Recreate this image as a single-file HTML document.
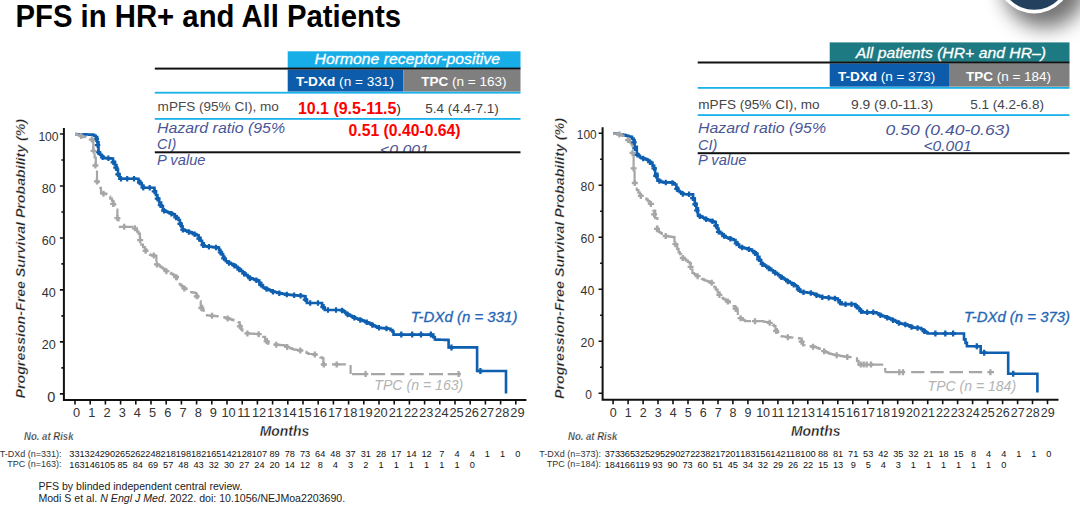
<!DOCTYPE html>
<html><head><meta charset="utf-8"><style>
html,body{margin:0;padding:0;background:#fff;width:1080px;height:508px;overflow:hidden}
svg{display:block;font-family:"Liberation Sans", sans-serif}
</style></head><body>
<svg width="1080" height="508" viewBox="0 0 1080 508">
<text x="15.5" y="27" font-size="30.5" font-weight="bold" fill="#000" textLength="385.5" lengthAdjust="spacingAndGlyphs">PFS in HR+ and All Patients</text>
<defs><filter id="sh" x="-50%" y="-50%" width="200%" height="200%"><feGaussianBlur stdDeviation="10"/></filter><clipPath id="clipL"><rect x="150" y="138" width="380" height="14"/></clipPath></defs>
<circle cx="1045" cy="-14" r="42" fill="#000" opacity="0.55" filter="url(#sh)"/>
<circle cx="1034.2" cy="-24.5" r="38" fill="#fff"/>
<circle cx="1034.2" cy="-24.5" r="34.3" fill="#23405e"/>
<rect x="287.7" y="51.3" width="232.8" height="17" fill="#17aee8"/>
<rect x="287.7" y="69.6" width="115.6" height="22" fill="#0d5cab"/>
<rect x="403.3" y="69.6" width="117.2" height="22" fill="#7f7f7f"/>
<rect x="154.8" y="67.6" width="365.7" height="2" fill="#111"/>
<rect x="154.8" y="91.8" width="365.7" height="1.8" fill="#1ab2ea"/>
<rect x="154.8" y="118" width="365.7" height="1.8" fill="#1ab2ea"/>
<text x="314.5" y="63.5" font-size="14" font-style="italic" fill="#fff" stroke="#fff" stroke-width="0.3" textLength="185.5" lengthAdjust="spacingAndGlyphs">Hormone receptor-positive</text>
<text x="296" y="86" font-size="13" fill="#fff" textLength="98" lengthAdjust="spacingAndGlyphs"><tspan font-weight="bold">T-DXd</tspan> (n = 331)</text>
<text x="421.2" y="86" font-size="13" fill="#fff" textLength="85.3" lengthAdjust="spacingAndGlyphs"><tspan font-weight="bold">TPC</tspan> (n = 163)</text>
<text x="157.6" y="111.4" font-size="13" fill="#4a4a4a" textLength="121.3" lengthAdjust="spacingAndGlyphs">mPFS (95% CI), mo</text>
<text x="297.9" y="113" font-size="16" font-weight="bold" fill="#f00" textLength="98.5" dy="0.5" lengthAdjust="spacingAndGlyphs">10.1 (9.5-11.5</text>
<text x="396.6" y="113" font-size="13" fill="#222">)</text>
<text x="425.3" y="112.5" font-size="12.5" fill="#444" textLength="73.5" lengthAdjust="spacingAndGlyphs">5.4 (4.4-7.1)</text>
<text x="157" y="133" font-size="14.5" font-style="italic" fill="#4a5696" textLength="128" lengthAdjust="spacingAndGlyphs">Hazard ratio (95%</text>
<text x="157" y="149" font-size="14.5" font-style="italic" fill="#4a5696">CI)</text>
<text x="348.6" y="136.3" font-size="16" font-weight="bold" fill="#f00" textLength="112" lengthAdjust="spacingAndGlyphs">0.51 (0.40-0.64)</text>
<g clip-path="url(#clipL)"><text x="380" y="155" font-size="14" font-style="italic" fill="#4a5696" textLength="48.9" lengthAdjust="spacingAndGlyphs">&lt;0.001</text></g>
<rect x="154.8" y="151.3" width="365.7" height="2" fill="#111"/>
<text x="157" y="165" font-size="14.5" font-style="italic" fill="#4a5696" textLength="48.5" lengthAdjust="spacingAndGlyphs">P value</text>
<rect x="829.7" y="42.4" width="239.8" height="19.5" fill="#1e7a82"/>
<rect x="829.7" y="63.4" width="119.3" height="23.3" fill="#0d5cab"/>
<rect x="949" y="63.4" width="120.5" height="23.3" fill="#7f7f7f"/>
<rect x="697.7" y="61.5" width="371.8" height="2" fill="#111"/>
<rect x="697.7" y="87" width="371.8" height="1.8" fill="#1ab2ea"/>
<rect x="697.7" y="114.2" width="371.8" height="1.8" fill="#1ab2ea"/>
<text x="855.8" y="57.6" font-size="15" font-style="italic" fill="#fff" stroke="#fff" stroke-width="0.3" textLength="190.2" lengthAdjust="spacingAndGlyphs">All patients (HR+ and HR–)</text>
<text x="837.9" y="81" font-size="13.5" fill="#fff" textLength="97.3" lengthAdjust="spacingAndGlyphs"><tspan font-weight="bold">T-DXd</tspan> (n = 373)</text>
<text x="966.1" y="81" font-size="13.5" fill="#fff" textLength="84.9" lengthAdjust="spacingAndGlyphs"><tspan font-weight="bold">TPC</tspan> (n = 184)</text>
<text x="698.3" y="108.6" font-size="13.5" fill="#444" textLength="121.3" lengthAdjust="spacingAndGlyphs">mPFS (95% CI), mo</text>
<text x="851" y="109.4" font-size="13.5" fill="#444" textLength="82" lengthAdjust="spacingAndGlyphs">9.9 (9.0-11.3)</text>
<text x="970.3" y="109.4" font-size="13.5" fill="#444" textLength="73.6" lengthAdjust="spacingAndGlyphs">5.1 (4.2-6.8)</text>
<text x="698" y="133.4" font-size="14.5" font-style="italic" fill="#4a5696" textLength="128" lengthAdjust="spacingAndGlyphs">Hazard ratio (95%</text>
<text x="698" y="150" font-size="14.5" font-style="italic" fill="#4a5696">CI)</text>
<text x="885.6" y="135.3" font-size="14.5" font-style="italic" fill="#4a5696" textLength="124.6" lengthAdjust="spacingAndGlyphs">0.50 (0.40-0.63)</text>
<text x="923.4" y="150.5" font-size="14" font-style="italic" fill="#4a5696" textLength="48.2" lengthAdjust="spacingAndGlyphs">&lt;0.001</text>
<rect x="697.7" y="152.2" width="371.8" height="2" fill="#111"/>
<text x="698" y="165" font-size="14.5" font-style="italic" fill="#4a5696" textLength="48.5" lengthAdjust="spacingAndGlyphs">P value</text>
<g font-family='"Liberation Sans", sans-serif'>
<path d="M63.9 128.0 V399.9 H526.4" fill="none" stroke="#111" stroke-width="2"/><path d="M59.9 393.9H63.9M61.4 367.9H63.9M59.9 341.9H63.9M61.4 315.9H63.9M59.9 289.9H63.9M61.4 263.9H63.9M59.9 238.0H63.9M61.4 212.0H63.9M59.9 186.0H63.9M61.4 160.0H63.9M59.9 134.0H63.9M75.0 399.9V404.4M90.2 399.9V404.4M105.4 399.9V404.4M120.6 399.9V404.4M135.8 399.9V404.4M151.0 399.9V404.4M166.2 399.9V404.4M181.4 399.9V404.4M196.6 399.9V404.4M211.8 399.9V404.4M227.0 399.9V404.4M242.2 399.9V404.4M257.4 399.9V404.4M272.6 399.9V404.4M287.8 399.9V404.4M303.0 399.9V404.4M318.2 399.9V404.4M333.4 399.9V404.4M348.6 399.9V404.4M363.8 399.9V404.4M379.0 399.9V404.4M394.2 399.9V404.4M409.4 399.9V404.4M424.6 399.9V404.4M439.8 399.9V404.4M455.0 399.9V404.4M470.2 399.9V404.4M485.4 399.9V404.4M500.6 399.9V404.4M515.8 399.9V404.4" stroke="#111" stroke-width="1.6" fill="none"/><text x="55.4" y="402.2" text-anchor="end" font-size="14.5" fill="#333">0</text><text x="55.8" y="348.5" text-anchor="end" font-size="12.6" fill="#333">20</text><text x="55.8" y="296.5" text-anchor="end" font-size="12.6" fill="#333">40</text><text x="55.8" y="244.6" text-anchor="end" font-size="12.6" fill="#333">60</text><text x="55.8" y="192.6" text-anchor="end" font-size="12.6" fill="#333">80</text><text x="58.6" y="140.7" text-anchor="end" font-size="12.6" fill="#333" textLength="20.2" lengthAdjust="spacingAndGlyphs">100</text><text x="76.6" y="417.4" text-anchor="middle" font-size="12.8" fill="#333">0</text><text x="91.8" y="417.4" text-anchor="middle" font-size="12.8" fill="#333">1</text><text x="107.0" y="417.4" text-anchor="middle" font-size="12.8" fill="#333">2</text><text x="122.2" y="417.4" text-anchor="middle" font-size="12.8" fill="#333">3</text><text x="137.4" y="417.4" text-anchor="middle" font-size="12.8" fill="#333">4</text><text x="152.6" y="417.4" text-anchor="middle" font-size="12.8" fill="#333">5</text><text x="167.8" y="417.4" text-anchor="middle" font-size="12.8" fill="#333">6</text><text x="183.0" y="417.4" text-anchor="middle" font-size="12.8" fill="#333">7</text><text x="198.2" y="417.4" text-anchor="middle" font-size="12.8" fill="#333">8</text><text x="213.4" y="417.4" text-anchor="middle" font-size="12.8" fill="#333">9</text><text x="228.6" y="417.4" text-anchor="middle" font-size="12.8" fill="#333">10</text><text x="243.8" y="417.4" text-anchor="middle" font-size="12.8" fill="#333">11</text><text x="259.0" y="417.4" text-anchor="middle" font-size="12.8" fill="#333">12</text><text x="274.2" y="417.4" text-anchor="middle" font-size="12.8" fill="#333">13</text><text x="289.4" y="417.4" text-anchor="middle" font-size="12.8" fill="#333">14</text><text x="304.6" y="417.4" text-anchor="middle" font-size="12.8" fill="#333">15</text><text x="319.8" y="417.4" text-anchor="middle" font-size="12.8" fill="#333">16</text><text x="335.0" y="417.4" text-anchor="middle" font-size="12.8" fill="#333">17</text><text x="350.2" y="417.4" text-anchor="middle" font-size="12.8" fill="#333">18</text><text x="365.4" y="417.4" text-anchor="middle" font-size="12.8" fill="#333">19</text><text x="380.6" y="417.4" text-anchor="middle" font-size="12.8" fill="#333">20</text><text x="395.8" y="417.4" text-anchor="middle" font-size="12.8" fill="#333">21</text><text x="411.0" y="417.4" text-anchor="middle" font-size="12.8" fill="#333">22</text><text x="426.2" y="417.4" text-anchor="middle" font-size="12.8" fill="#333">23</text><text x="441.4" y="417.4" text-anchor="middle" font-size="12.8" fill="#333">24</text><text x="456.6" y="417.4" text-anchor="middle" font-size="12.8" fill="#333">25</text><text x="471.8" y="417.4" text-anchor="middle" font-size="12.8" fill="#333">26</text><text x="487.0" y="417.4" text-anchor="middle" font-size="12.8" fill="#333">27</text><text x="502.2" y="417.4" text-anchor="middle" font-size="12.8" fill="#333">28</text><text x="517.4" y="417.4" text-anchor="middle" font-size="12.8" fill="#333">29</text>
<path d="M602.6 127.3 V399.8 H1058.5" fill="none" stroke="#111" stroke-width="2"/><path d="M598.6 393.3H602.6M600.1 367.3H602.6M598.6 341.3H602.6M600.1 315.3H602.6M598.6 289.3H602.6M600.1 263.3H602.6M598.6 237.3H602.6M600.1 211.3H602.6M598.6 185.3H602.6M600.1 159.3H602.6M598.6 133.3H602.6M613.1 399.8V404.3M628.1 399.8V404.3M643.1 399.8V404.3M658.0 399.8V404.3M673.0 399.8V404.3M688.0 399.8V404.3M703.0 399.8V404.3M718.0 399.8V404.3M732.9 399.8V404.3M747.9 399.8V404.3M762.9 399.8V404.3M777.9 399.8V404.3M792.9 399.8V404.3M807.8 399.8V404.3M822.8 399.8V404.3M837.8 399.8V404.3M852.8 399.8V404.3M867.8 399.8V404.3M882.7 399.8V404.3M897.7 399.8V404.3M912.7 399.8V404.3M927.7 399.8V404.3M942.7 399.8V404.3M957.6 399.8V404.3M972.6 399.8V404.3M987.6 399.8V404.3M1002.6 399.8V404.3M1017.6 399.8V404.3M1032.5 399.8V404.3M1047.5 399.8V404.3" stroke="#111" stroke-width="1.6" fill="none"/><text x="592.0" y="398.8" text-anchor="end" font-size="12.0" fill="#333">0</text><text x="594.3" y="346.8" text-anchor="end" font-size="12.3" fill="#333">20</text><text x="594.3" y="295.1" text-anchor="end" font-size="12.3" fill="#333">40</text><text x="594.3" y="243.1" text-anchor="end" font-size="12.3" fill="#333">60</text><text x="594.3" y="191.3" text-anchor="end" font-size="12.3" fill="#333">80</text><text x="596.6" y="138.9" text-anchor="end" font-size="12.3" fill="#333" textLength="19.8" lengthAdjust="spacingAndGlyphs">100</text><text x="613.3" y="416.6" text-anchor="middle" font-size="12.5" fill="#333">0</text><text x="628.3" y="416.6" text-anchor="middle" font-size="12.5" fill="#333">1</text><text x="643.3" y="416.6" text-anchor="middle" font-size="12.5" fill="#333">2</text><text x="658.2" y="416.6" text-anchor="middle" font-size="12.5" fill="#333">3</text><text x="673.2" y="416.6" text-anchor="middle" font-size="12.5" fill="#333">4</text><text x="688.2" y="416.6" text-anchor="middle" font-size="12.5" fill="#333">5</text><text x="703.2" y="416.6" text-anchor="middle" font-size="12.5" fill="#333">6</text><text x="718.2" y="416.6" text-anchor="middle" font-size="12.5" fill="#333">7</text><text x="733.1" y="416.6" text-anchor="middle" font-size="12.5" fill="#333">8</text><text x="748.1" y="416.6" text-anchor="middle" font-size="12.5" fill="#333">9</text><text x="763.1" y="416.6" text-anchor="middle" font-size="12.5" fill="#333">10</text><text x="778.1" y="416.6" text-anchor="middle" font-size="12.5" fill="#333">11</text><text x="793.1" y="416.6" text-anchor="middle" font-size="12.5" fill="#333">12</text><text x="808.0" y="416.6" text-anchor="middle" font-size="12.5" fill="#333">13</text><text x="823.0" y="416.6" text-anchor="middle" font-size="12.5" fill="#333">14</text><text x="838.0" y="416.6" text-anchor="middle" font-size="12.5" fill="#333">15</text><text x="853.0" y="416.6" text-anchor="middle" font-size="12.5" fill="#333">16</text><text x="868.0" y="416.6" text-anchor="middle" font-size="12.5" fill="#333">17</text><text x="882.9" y="416.6" text-anchor="middle" font-size="12.5" fill="#333">18</text><text x="897.9" y="416.6" text-anchor="middle" font-size="12.5" fill="#333">19</text><text x="912.9" y="416.6" text-anchor="middle" font-size="12.5" fill="#333">20</text><text x="927.9" y="416.6" text-anchor="middle" font-size="12.5" fill="#333">21</text><text x="942.9" y="416.6" text-anchor="middle" font-size="12.5" fill="#333">22</text><text x="957.8" y="416.6" text-anchor="middle" font-size="12.5" fill="#333">23</text><text x="972.8" y="416.6" text-anchor="middle" font-size="12.5" fill="#333">24</text><text x="987.8" y="416.6" text-anchor="middle" font-size="12.5" fill="#333">25</text><text x="1002.8" y="416.6" text-anchor="middle" font-size="12.5" fill="#333">26</text><text x="1017.8" y="416.6" text-anchor="middle" font-size="12.5" fill="#333">27</text><text x="1032.7" y="416.6" text-anchor="middle" font-size="12.5" fill="#333">28</text><text x="1047.7" y="416.6" text-anchor="middle" font-size="12.5" fill="#333">29</text>
</g>
<path d="M75.0 134.1L76.6 134.1L76.6 134.2L78.2 134.2L78.2 134.2L79.8 134.2L79.8 134.3L81.4 134.3L81.4 134.3L83.0 134.3L83.0 134.4L84.5 134.4L84.5 134.4L86.1 134.4L86.1 134.5L87.7 134.5L87.7 134.5L89.3 134.5L89.3 134.6L90.9 134.6L90.9 134.6L92.5 134.6L92.5 134.7L94.1 134.7L94.1 135.8L95.7 135.8L95.7 137.0L97.2 137.0L97.2 142.3L98.5 142.3L98.5 153.0L100.1 153.0L100.1 154.7L101.7 154.7L101.7 156.3L103.3 156.3L103.3 158.0L104.8 158.0L104.8 158.1L106.4 158.1L106.4 158.2L107.9 158.2L107.9 158.3L109.5 158.3L109.5 158.4L111.0 158.4L111.0 158.5L113.0 158.5L113.0 161.8L115.0 161.8L115.0 165.0L116.5 165.0L116.5 169.6L118.0 169.6L118.0 174.1L119.5 174.1L119.5 178.7L136.9 178.7L138.5 178.7L138.5 181.0L140.2 181.0L140.2 183.2L141.8 183.2L141.8 185.5L143.4 185.5L143.4 187.8L153.0 187.8L154.5 187.8L154.5 191.4L155.9 191.4L155.9 195.0L157.4 195.0L157.4 198.6L159.2 198.6L159.2 202.5L161.1 202.5L161.1 206.4L162.9 206.4L162.9 210.3L164.6 210.3L164.6 211.0L166.3 211.0L166.3 211.7L167.9 211.7L167.9 212.4L169.6 212.4L169.6 213.0L171.3 213.0L171.3 213.7L173.0 213.7L173.0 214.4L174.8 214.4L174.8 216.3L176.7 216.3L176.7 218.1L178.5 218.1L178.5 220.0L179.9 220.0L179.9 223.2L181.2 223.2L181.2 226.4L182.6 226.4L182.6 229.6L184.1 229.6L184.1 230.2L185.6 230.2L185.6 230.7L187.0 230.7L187.0 231.3L188.5 231.3L188.5 231.8L190.0 231.8L190.0 232.4L191.7 232.4L191.7 233.1L193.4 233.1L193.4 233.8L195.2 233.8L195.2 234.5L196.9 234.5L196.9 235.2L198.6 235.2L198.6 237.9L200.4 237.9L200.4 240.7L202.1 240.7L202.1 243.4L203.8 243.4L203.8 246.2L205.3 246.2L205.3 246.4L206.9 246.4L206.9 246.5L208.4 246.5L208.4 246.7L209.9 246.7L209.9 246.8L211.5 246.8L211.5 247.0L213.0 247.0L213.0 247.1L214.5 247.1L214.5 247.3L216.1 247.3L216.1 247.4L217.6 247.4L217.6 247.6L219.0 247.6L219.0 249.9L220.3 249.9L220.3 252.1L221.7 252.1L221.7 254.4L223.1 254.4L223.1 256.7L224.4 256.7L224.4 259.0L225.8 259.0L225.8 261.3L227.5 261.3L227.5 262.1L229.1 262.1L229.1 263.0L230.8 263.0L230.8 263.8L232.4 263.8L232.4 264.7L234.1 264.7L234.1 265.5L235.8 265.5L235.8 266.9L237.6 266.9L237.6 268.2L239.3 268.2L239.3 269.6L241.0 269.6L241.0 271.0L242.6 271.0L242.6 272.4L244.3 272.4L244.3 273.8L245.9 273.8L245.9 275.1L247.6 275.1L247.6 276.5L249.2 276.5L249.2 277.9L250.9 277.9L250.9 278.4L252.5 278.4L252.5 279.0L254.2 279.0L254.2 279.5L255.8 279.5L255.8 280.1L257.5 280.1L257.5 280.6L259.3 280.6L259.3 282.9L261.2 282.9L261.2 285.2L263.0 285.2L263.0 287.5L264.6 287.5L264.6 288.2L266.2 288.2L266.2 288.9L267.9 288.9L267.9 289.6L269.5 289.6L269.5 290.2L271.1 290.2L271.1 290.9L272.7 290.9L272.7 291.6L274.2 291.6L274.2 292.0L275.8 292.0L275.8 292.3L277.3 292.3L277.3 292.6L278.9 292.6L278.9 293.0L280.4 293.0L280.4 293.4L281.9 293.4L281.9 293.7L283.5 293.7L283.5 294.0L285.0 294.0L285.0 294.4L286.7 294.4L286.7 294.6L288.4 294.6L288.4 294.7L290.1 294.7L290.1 294.9L291.8 294.9L291.8 295.0L293.4 295.0L293.4 295.2L295.1 295.2L295.1 295.3L296.8 295.3L296.8 295.5L298.5 295.5L298.5 295.6L300.2 295.6L300.2 295.8L302.1 295.8L302.1 296.0L304.1 296.0L304.1 296.2L305.5 296.2L305.5 299.6L306.9 299.6L306.9 303.0L320.7 303.0L322.1 303.0L322.1 305.3L323.4 305.3L323.4 307.7L324.8 307.7L324.8 310.0L341.3 310.0L343.1 310.0L343.1 311.4L345.0 311.4L345.0 312.7L346.8 312.7L346.8 314.1L348.5 314.1L348.5 314.9L350.1 314.9L350.1 315.7L351.8 315.7L351.8 316.6L353.4 316.6L353.4 317.4L355.1 317.4L355.1 318.2L356.8 318.2L356.8 318.8L358.4 318.8L358.4 319.3L360.1 319.3L360.1 319.9L361.7 319.9L361.7 320.4L363.4 320.4L363.4 321.0L364.9 321.0L364.9 321.6L366.4 321.6L366.4 322.2L367.9 322.2L367.9 322.8L369.5 322.8L369.5 323.6L371.2 323.6L371.2 324.4L372.8 324.4L372.8 325.2L374.4 325.2L374.4 326.1L376.1 326.1L376.1 326.9L377.7 326.9L377.7 327.7L379.2 327.7L379.2 327.8L380.8 327.8L380.8 328.0L382.3 328.0L382.3 328.1L383.9 328.1L383.9 328.3L385.4 328.3L385.4 328.4L387.0 328.4L387.0 328.6L388.5 328.6L388.5 328.7L390.5 328.7L390.5 330.1L392.5 330.1L392.5 331.6L393.5 331.6L393.5 334.6L431.8 334.6L433.3 334.6L433.3 337.1L434.8 337.1L434.8 339.5L436.4 339.5L436.4 339.6L438.0 339.6L438.0 339.6L439.6 339.6L439.6 339.7L441.2 339.7L441.2 339.8L442.8 339.8L442.8 339.8L444.4 339.8L444.4 339.9L446.0 339.9L446.0 339.9L447.6 339.9L447.6 340.0L448.6 340.0L448.6 347.4L477.1 347.4L477.1 371.0L506.0 371.0L506.0 393.6" fill="none" stroke="#0f5fb0" stroke-width="2.6"/>
<path d="M613.0 133.3L614.6 133.3L614.6 133.5L616.2 133.5L616.2 133.8L617.9 133.8L617.9 134.0L619.5 134.0L619.5 134.2L621.1 134.2L621.1 134.5L622.7 134.5L622.7 134.7L624.2 134.7L624.2 135.1L625.7 135.1L625.7 135.6L627.3 135.6L627.3 136.0L628.8 136.0L628.8 136.5L630.3 136.5L630.3 136.9L632.0 136.9L632.0 138.6L633.6 138.6L633.6 140.2L634.6 140.2L634.6 146.7L636.8 146.7L636.8 154.2L638.4 154.2L638.4 155.8L640.0 155.8L640.0 157.5L641.6 157.5L641.6 158.0L643.3 158.0L643.3 158.6L645.0 158.6L645.0 159.1L646.6 159.1L646.6 159.6L648.0 159.6L648.0 160.7L649.5 160.7L649.5 161.8L650.9 161.8L650.9 162.9L652.5 162.9L652.5 165.6L654.1 165.6L654.1 168.3L655.2 168.3L655.2 173.7L657.4 173.7L657.4 180.2L659.2 180.2L659.2 180.9L661.0 180.9L661.0 181.7L662.8 181.7L662.8 182.4L671.5 182.4L673.1 182.4L673.1 183.4L674.7 183.4L674.7 184.5L676.4 184.5L676.4 187.8L678.0 187.8L678.0 191.0L679.8 191.0L679.8 192.1L681.6 192.1L681.6 193.2L683.4 193.2L683.4 194.3L691.0 194.3L693.1 194.3L693.1 198.6L694.8 198.6L694.8 203.5L696.4 203.5L696.4 208.4L697.9 208.4L697.9 215.2L699.5 215.2L699.5 216.0L701.2 216.0L701.2 216.8L702.8 216.8L702.8 217.7L704.5 217.7L704.5 218.5L706.1 218.5L706.1 219.3L707.8 219.3L707.8 219.8L709.4 219.8L709.4 220.4L711.1 220.4L711.1 220.9L712.7 220.9L712.7 221.5L714.4 221.5L714.4 222.0L715.8 222.0L715.8 225.2L717.1 225.2L717.1 228.5L718.5 228.5L718.5 231.7L720.2 231.7L720.2 233.1L722.0 233.1L722.0 234.4L723.7 234.4L723.7 235.8L725.4 235.8L725.4 237.2L727.1 237.2L727.1 237.8L728.7 237.8L728.7 238.3L730.4 238.3L730.4 238.9L732.0 238.9L732.0 239.4L733.7 239.4L733.7 240.0L735.5 240.0L735.5 242.3L737.4 242.3L737.4 244.5L739.2 244.5L739.2 246.8L740.8 246.8L740.8 247.2L742.3 247.2L742.3 247.6L743.9 247.6L743.9 248.0L745.5 248.0L745.5 248.4L747.1 248.4L747.1 248.8L748.6 248.8L748.6 249.2L750.2 249.2L750.2 249.6L752.0 249.6L752.0 251.0L753.9 251.0L753.9 252.3L755.7 252.3L755.7 253.7L757.5 253.7L757.5 256.9L759.4 256.9L759.4 260.2L761.2 260.2L761.2 263.4L762.9 263.4L762.9 264.5L764.5 264.5L764.5 265.6L766.2 265.6L766.2 266.7L767.8 266.7L767.8 267.8L769.5 267.8L769.5 268.9L771.3 268.9L771.3 270.2L773.0 270.2L773.0 271.4L774.8 271.4L774.8 272.7L776.5 272.7L776.5 273.9L778.3 273.9L778.3 275.2L779.9 275.2L779.9 276.3L781.6 276.3L781.6 277.4L783.2 277.4L783.2 278.5L784.9 278.5L784.9 279.6L786.5 279.6L786.5 280.7L788.1 280.7L788.1 281.6L789.7 281.6L789.7 282.5L791.4 282.5L791.4 283.4L793.0 283.4L793.0 284.4L794.6 284.4L794.6 285.3L796.2 285.3L796.2 286.2L797.6 286.2L797.6 288.0L798.9 288.0L798.9 289.9L800.3 289.9L800.3 291.7L801.9 291.7L801.9 291.9L803.4 291.9L803.4 292.1L805.0 292.1L805.0 292.3L806.6 292.3L806.6 292.5L808.2 292.5L808.2 292.7L809.7 292.7L809.7 292.9L811.3 292.9L811.3 293.1L813.0 293.1L813.0 293.8L814.8 293.8L814.8 294.5L816.5 294.5L816.5 295.1L818.2 295.1L818.2 295.8L819.6 295.8L819.6 296.3L821.0 296.3L821.0 296.7L822.4 296.7L822.4 297.2L823.9 297.2L823.9 297.4L825.4 297.4L825.4 297.5L827.0 297.5L827.0 297.7L828.5 297.7L828.5 297.8L830.0 297.8L830.0 298.0L831.5 298.0L831.5 298.1L833.1 298.1L833.1 298.3L834.6 298.3L834.6 298.4L836.1 298.4L836.1 298.6L837.9 298.6L837.9 300.4L839.8 300.4L839.8 302.3L841.6 302.3L841.6 304.1L854.0 304.1L855.4 304.1L855.4 305.5L856.8 305.5L856.8 306.8L858.2 306.8L858.2 308.2L859.6 308.2L859.6 309.6L860.9 309.6L860.9 311.0L862.3 311.0L862.3 312.4L874.7 312.4L876.5 312.4L876.5 313.3L878.4 313.3L878.4 314.2L880.2 314.2L880.2 315.1L881.8 315.1L881.8 315.7L883.3 315.7L883.3 316.3L884.9 316.3L884.9 316.9L886.5 316.9L886.5 317.4L888.1 317.4L888.1 318.0L889.6 318.0L889.6 318.6L891.2 318.6L891.2 319.2L892.9 319.2L892.9 320.0L894.5 320.0L894.5 320.9L896.2 320.9L896.2 321.7L897.8 321.7L897.8 322.6L899.5 322.6L899.5 323.4L901.1 323.4L901.1 323.7L902.7 323.7L902.7 324.0L904.3 324.0L904.3 324.3L905.9 324.3L905.9 324.6L907.6 324.6L907.6 325.4L909.3 325.4L909.3 326.1L911.1 326.1L911.1 326.9L912.8 326.9L912.8 327.6L914.5 327.6L914.5 327.7L916.2 327.7L916.2 327.9L918.0 327.9L918.0 328.0L919.7 328.0L919.7 328.1L921.3 328.1L921.3 329.2L923.0 329.2L923.0 330.4L924.6 330.4L924.6 331.5L926.1 331.5L926.1 332.5L927.6 332.5L927.6 333.5L962.0 333.5L964.0 333.5L964.0 339.4L965.5 339.4L965.5 342.9L966.9 342.9L966.9 346.3L979.7 346.3L980.7 346.3L980.7 352.7L1008.2 352.7L1008.2 373.8L1037.4 373.8L1037.4 392.5" fill="none" stroke="#0f5fb0" stroke-width="2.6"/>
<path d="M75.0 134.1L76.9 134.1L76.9 134.7L78.7 134.7L78.7 135.2L80.6 135.2L80.6 135.8L82.7 135.8L82.7 137.0L84.2 137.0L84.2 137.1L85.7 137.1L85.7 137.2L87.3 137.2L87.3 137.3L88.8 137.3L88.8 137.4L90.3 137.4L90.3 137.5L92.0 137.5L92.0 140.0L93.3 140.0L93.3 148.8L94.6 148.8L94.6 157.5L95.8 157.5L95.8 169.9L97.0 169.9L97.0 182.4L99.0 182.4L99.0 187.8L101.0 187.8L101.0 193.2L102.9 193.2L102.9 193.6L104.7 193.6L104.7 193.9L106.6 193.9L106.6 194.3L108.4 194.3L108.4 196.5L110.2 196.5L110.2 198.6L112.0 198.6L112.0 200.8L113.6 200.8L113.6 205.2L115.2 205.2L115.2 209.5L117.4 209.5L117.4 218.0L118.5 218.0L118.5 226.8L130.4 226.8L132.4 226.8L132.4 227.1L134.4 227.1L134.4 227.4L135.8 227.4L135.8 229.5L137.1 229.5L137.1 231.6L138.5 231.6L138.5 233.7L139.9 233.7L139.9 239.2L141.3 239.2L141.3 244.7L143.0 244.7L143.0 247.1L144.8 247.1L144.8 249.6L146.5 249.6L146.5 252.0L148.2 252.0L148.2 254.4L149.9 254.4L149.9 254.8L151.6 254.8L151.6 255.1L153.3 255.1L153.3 255.5L155.0 255.5L155.0 255.8L156.4 255.8L156.4 264.0L158.0 264.0L158.0 265.2L159.6 265.2L159.6 266.3L161.2 266.3L161.2 267.5L162.8 267.5L162.8 268.7L164.4 268.7L164.4 269.8L166.0 269.8L166.0 271.0L167.6 271.0L167.6 271.9L169.2 271.9L169.2 272.8L170.8 272.8L170.8 273.7L172.5 273.7L172.5 274.6L174.1 274.6L174.1 275.5L175.7 275.5L175.7 276.4L177.1 276.4L177.1 279.2L178.4 279.2L178.4 281.9L179.8 281.9L179.8 284.7L181.5 284.7L181.5 286.1L183.1 286.1L183.1 287.5L184.8 287.5L184.8 288.8L186.4 288.8L186.4 290.2L188.1 290.2L188.1 291.6L189.8 291.6L189.8 292.0L191.6 292.0L191.6 292.3L193.3 292.3L193.3 292.6L195.0 292.6L195.0 293.0L196.4 293.0L196.4 295.7L197.7 295.7L197.7 298.5L199.1 298.5L199.1 301.2L200.7 301.2L200.7 305.8L202.2 305.8L202.2 310.4L203.8 310.4L203.8 315.0L205.3 315.0L205.3 315.2L206.9 315.2L206.9 315.3L208.4 315.3L208.4 315.5L209.9 315.5L209.9 315.6L211.5 315.6L211.5 315.8L213.0 315.8L213.0 315.9L214.5 315.9L214.5 316.1L216.1 316.1L216.1 316.2L217.6 316.2L217.6 316.4L219.2 316.4L219.2 316.7L220.9 316.7L220.9 317.0L222.5 317.0L222.5 317.2L224.2 317.2L224.2 317.5L225.8 317.5L225.8 317.8L227.4 317.8L227.4 318.3L228.9 318.3L228.9 318.9L230.4 318.9L230.4 319.4L232.0 319.4L232.0 319.9L233.6 319.9L233.6 320.4L235.1 320.4L235.1 320.9L236.6 320.9L236.6 321.5L238.2 321.5L238.2 322.0L239.6 322.0L239.6 325.7L241.0 325.7L241.0 329.3L242.4 329.3L242.4 333.0L244.0 333.0L244.0 333.1L245.6 333.1L245.6 333.2L247.2 333.2L247.2 333.4L248.8 333.4L248.8 333.5L250.4 333.5L250.4 333.6L252.0 333.6L252.0 333.7L253.6 333.7L253.6 333.8L255.2 333.8L255.2 333.9L256.8 333.9L256.8 334.0L258.4 334.0L258.4 334.2L260.0 334.2L260.0 334.3L261.6 334.3L261.6 334.4L263.3 334.4L263.3 336.8L265.1 336.8L265.1 339.2L266.8 339.2L266.8 341.6L268.5 341.6L268.5 344.0L270.2 344.0L270.2 344.2L271.9 344.2L271.9 344.3L273.6 344.3L273.6 344.5L275.3 344.5L275.3 344.6L276.9 344.6L276.9 344.8L278.6 344.8L278.6 344.9L280.3 344.9L280.3 345.1L282.0 345.1L282.0 345.2L283.7 345.2L283.7 345.4L285.3 345.4L285.3 346.1L286.9 346.1L286.9 346.8L288.5 346.8L288.5 347.4L290.1 347.4L290.1 348.1L291.7 348.1L291.7 348.8L293.3 348.8L293.3 349.5L294.9 349.5L294.9 349.7L296.5 349.7L296.5 350.0L298.1 350.0L298.1 350.2L299.8 350.2L299.8 350.4L301.4 350.4L301.4 350.7L303.0 350.7L303.0 350.9L304.8 350.9L304.8 351.9L306.5 351.9L306.5 353.0L308.3 353.0L308.3 354.0L313.8 354.0L315.4 354.0L315.4 354.8L317.1 354.8L317.1 355.7L318.7 355.7L318.7 356.5L320.4 356.5L320.4 357.4L322.0 357.4L322.0 358.2L323.4 358.2L323.4 364.5L325.0 364.5L325.0 364.5L326.6 364.5L326.6 364.5L328.1 364.5L328.1 364.4L329.7 364.4L329.7 364.4L331.3 364.4L331.3 364.4L332.9 364.4L332.9 364.4L334.4 364.4L334.4 364.4L336.0 364.4L336.0 364.4L337.6 364.4L337.6 364.3L339.2 364.3L339.2 364.3L340.7 364.3L340.7 364.3L342.3 364.3L342.3 364.3L343.9 364.3L343.9 364.3L345.5 364.3L345.5 364.3L347.0 364.3L347.0 364.2L348.6 364.2L348.6 364.2L350.2 364.2L350.2 364.2L350.6 364.2L350.6 374.1" fill="none" stroke="#a6a6a8" stroke-width="2.2" stroke-dasharray="14 5.5"/>
<path d="M613.0 133.3L614.5 133.3L614.5 133.6L616.0 133.6L616.0 133.9L617.6 133.9L617.6 134.1L619.1 134.1L619.1 134.4L620.6 134.4L620.6 134.7L622.1 134.7L622.1 135.8L623.6 135.8L623.6 136.9L625.2 136.9L625.2 138.0L626.7 138.0L626.7 139.1L628.2 139.1L628.2 140.2L629.8 140.2L629.8 142.3L631.4 142.3L631.4 144.5L632.5 144.5L632.5 153.2L633.6 153.2L633.6 168.3L634.6 168.3L634.6 182.4L636.8 182.4L636.8 190.0L638.4 190.0L638.4 192.7L640.0 192.7L640.0 195.4L641.6 195.4L641.6 196.5L643.3 196.5L643.3 197.6L645.0 197.6L645.0 198.6L646.6 198.6L646.6 199.7L648.0 199.7L648.0 201.1L649.5 201.1L649.5 202.6L650.9 202.6L650.9 204.0L653.0 204.0L653.0 210.5L655.2 210.5L655.2 218.1L657.4 218.1L657.4 231.1L658.9 231.1L658.9 232.0L660.4 232.0L660.4 233.0L661.8 233.0L661.8 233.9L663.3 233.9L663.3 234.9L664.8 234.9L664.8 235.8L666.5 235.8L666.5 236.1L668.1 236.1L668.1 236.4L669.8 236.4L669.8 236.6L671.4 236.6L671.4 236.9L673.1 236.9L673.1 237.2L674.5 237.2L674.5 241.3L675.8 241.3L675.8 245.5L677.2 245.5L677.2 248.9L678.6 248.9L678.6 252.4L680.0 252.4L680.0 254.2L681.3 254.2L681.3 256.1L682.7 256.1L682.7 257.9L684.4 257.9L684.4 259.3L686.2 259.3L686.2 260.6L687.9 260.6L687.9 262.0L689.6 262.0L689.6 263.4L691.0 263.4L691.0 268.2L692.4 268.2L692.4 273.0L694.0 273.0L694.0 274.0L695.5 274.0L695.5 275.0L697.1 275.0L697.1 276.0L698.7 276.0L698.7 276.9L700.3 276.9L700.3 277.9L701.8 277.9L701.8 278.9L703.4 278.9L703.4 279.9L705.0 279.9L705.0 280.5L706.7 280.5L706.7 281.0L708.3 281.0L708.3 281.6L710.0 281.6L710.0 282.1L711.6 282.1L711.6 282.7L713.0 282.7L713.0 285.0L714.4 285.0L714.4 287.3L715.8 287.3L715.8 289.6L717.6 289.6L717.6 292.3L719.5 292.3L719.5 295.1L721.3 295.1L721.3 297.8L722.9 297.8L722.9 298.7L724.5 298.7L724.5 299.6L726.1 299.6L726.1 300.6L727.7 300.6L727.7 301.5L729.3 301.5L729.3 302.4L730.9 302.4L730.9 303.3L732.3 303.3L732.3 304.7L733.7 304.7L733.7 306.1L735.1 306.1L735.1 307.5L736.5 307.5L736.5 310.7L737.8 310.7L737.8 313.9L739.2 313.9L739.2 317.1L741.0 317.1L741.0 318.5L742.9 318.5L742.9 319.8L744.7 319.8L744.7 321.2L761.2 321.2L762.9 321.2L762.9 321.5L764.5 321.5L764.5 321.8L766.2 321.8L766.2 322.0L767.8 322.0L767.8 322.3L769.5 322.3L769.5 322.6L771.0 322.6L771.0 323.8L772.6 323.8L772.6 324.9L774.1 324.9L774.1 326.1L775.5 326.1L775.5 329.3L776.9 329.3L776.9 332.6L778.3 332.6L778.3 335.8L779.9 335.8L779.9 336.0L781.5 336.0L781.5 336.3L783.1 336.3L783.1 336.5L784.7 336.5L784.7 336.7L786.3 336.7L786.3 337.0L787.9 337.0L787.9 337.2L789.4 337.2L789.4 337.4L791.0 337.4L791.0 337.5L792.5 337.5L792.5 337.7L794.1 337.7L794.1 337.9L795.6 337.9L795.6 338.0L797.2 338.0L797.2 338.2L798.8 338.2L798.8 338.3L800.3 338.3L800.3 338.5L801.7 338.5L801.7 341.9L803.1 341.9L803.1 345.4L804.7 345.4L804.7 345.6L806.2 345.6L806.2 345.8L807.8 345.8L807.8 346.0L809.4 346.0L809.4 346.2L811.0 346.2L811.0 346.4L812.5 346.4L812.5 346.6L814.1 346.6L814.1 346.8L815.8 346.8L815.8 347.5L817.5 347.5L817.5 348.2L819.3 348.2L819.3 348.9L821.0 348.9L821.0 349.6L822.6 349.6L822.6 350.4L824.3 350.4L824.3 351.2L825.9 351.2L825.9 352.1L827.6 352.1L827.6 352.9L829.2 352.9L829.2 353.7L830.7 353.7L830.7 354.0L832.3 354.0L832.3 354.3L833.8 354.3L833.8 354.6L835.3 354.6L835.3 354.9L836.9 354.9L836.9 355.2L838.4 355.2L838.4 355.5L839.9 355.5L839.9 355.8L841.5 355.8L841.5 356.1L843.0 356.1L843.0 356.4L844.6 356.4L844.6 356.6L846.3 356.6L846.3 356.8L848.0 356.8L848.0 357.0L849.6 357.0L849.6 357.2L855.6 357.2L857.0 357.2L857.0 360.9L858.5 360.9L858.5 364.6L884.4 364.6L885.2 364.6L885.2 372.2" fill="none" stroke="#a6a6a8" stroke-width="2.2" stroke-dasharray="14 5.5"/>
<path d="M96.3 136.5V142.0M93.6 139.2H99.1M97.6 142.5V148.0M94.8 145.2H100.3M98.4 149.5V155.0M95.7 152.2H101.2M102.6 154.6V160.1M99.9 157.3H105.4M108.4 155.6V161.1M105.7 158.3H111.2M113.3 159.5V165.0M110.6 162.3H116.1M115.9 165.0V170.5M113.2 167.7H118.7M118.0 171.5V177.0M115.3 174.3H120.8M121.0 175.9V181.4M118.2 178.7H123.7M127.2 175.9V181.4M124.4 178.7H129.9M134.0 175.9V181.4M131.3 178.7H136.8M139.7 179.8V185.3M136.9 182.6H142.4M143.3 184.9V190.4M140.5 187.7H146.0M149.7 185.1V190.6M146.9 187.8H152.4M154.5 188.7V194.2M151.7 191.4H157.2M157.5 196.0V201.5M154.7 198.7H160.2M160.5 202.5V208.0M157.8 205.2H163.3M164.0 208.0V213.5M161.2 210.7H166.7M171.4 211.0V216.5M168.6 213.7H174.1M176.0 214.7V220.2M173.3 217.5H178.8M180.1 221.1V226.6M177.4 223.9H182.9M182.9 227.0V232.5M180.2 229.7H185.7M188.8 229.2V234.7M186.0 231.9H191.5M194.6 231.5V237.0M191.8 234.3H197.3M199.1 235.9V241.4M196.3 238.7H201.8M203.1 242.4V247.9M200.4 245.2H205.9M208.9 244.0V249.5M206.1 246.7H211.6M216.0 244.7V250.2M213.3 247.4H218.8M220.5 249.7V255.2M217.8 252.5H223.3M224.0 255.5V261.0M221.2 258.3H226.7M229.0 260.2V265.7M226.2 262.9H231.7M234.4 263.0V268.5M231.7 265.7H237.2M239.2 266.8V272.3M236.4 269.6H241.9M244.1 270.9V276.4M241.4 273.6H246.9M249.9 275.4V280.9M247.2 278.1H252.7M256.4 277.5V283.0M253.7 280.2H259.2M260.9 282.1V287.6M258.2 284.9H263.7M266.5 286.2V291.7M263.8 289.0H269.3M272.9 288.9V294.4M270.2 291.6H275.7M279.3 290.4V295.9M276.6 293.1H282.1M286.8 291.8V297.3M284.0 294.6H289.5M294.2 292.5V298.0M291.4 295.2H296.9M300.6 293.1V298.6M297.9 295.8H303.4M305.5 296.8V302.3M302.7 299.6H308.2M310.2 300.2V305.8M307.5 303.0H313.0M318.0 300.2V305.8M315.2 303.0H320.7M323.1 304.3V309.8M320.3 307.1H325.8M328.0 307.2V312.8M325.3 310.0H330.8M336.0 307.2V312.8M333.2 310.0H338.7M342.0 307.8V313.3M339.3 310.5H344.8M347.6 311.7V317.2M344.8 314.5H350.3M354.3 315.1V320.6M351.6 317.8H357.1M360.3 317.2V322.7M357.5 319.9H363.0M366.8 319.6V325.1M364.1 322.4H369.6M372.3 322.2V327.7M369.5 325.0H375.0M379.0 325.1V330.6M376.2 327.8H381.7M386.5 325.8V331.3M383.7 328.5H389.2" stroke="#0f5fb0" stroke-width="2.2" fill="none"/>
<path d="M401.3 331.6V337.6M398.3 334.6H404.3M412.2 331.6V337.6M409.2 334.6H415.2M421.0 331.6V337.6M418.0 334.6H424.0M430.9 331.6V337.6M427.9 334.6H433.9M451.5 344.4V350.4M448.5 347.4H454.5M480.4 368.0V374.0M477.4 371.0H483.4" stroke="#0f5fb0" stroke-width="2.3" fill="none"/>
<path d="M633.9 139.6V145.1M631.2 142.3H636.7M635.1 145.6V151.1M632.3 148.4H637.8M637.4 152.0V157.5M634.6 154.8H640.1M643.2 155.8V161.3M640.4 158.5H645.9M649.9 159.4V164.9M647.1 162.1H652.6M654.1 165.6V171.1M651.4 168.4H656.9M655.9 173.1V178.6M653.2 175.9H658.7M659.3 178.2V183.7M656.5 181.0H662.0M665.8 179.7V185.2M663.1 182.4H668.6M672.4 180.2V185.7M669.6 183.0H675.1M676.9 186.2V191.7M674.2 188.9H679.7M682.8 191.2V196.7M680.0 193.9H685.5M689.0 191.6V197.1M686.2 194.3H691.7M692.9 195.4V200.9M690.1 198.2H695.6M695.0 201.5V207.0M692.3 204.3H697.8M696.9 207.7V213.2M694.1 210.5H699.6M699.8 213.4V218.9M697.0 216.1H702.5M706.2 216.6V222.1M703.5 219.3H709.0M712.4 218.6V224.1M709.7 221.4H715.2M715.9 222.9V228.4M713.2 225.6H718.7M718.7 229.1V234.6M715.9 231.9H721.4M724.0 233.3V238.8M721.2 236.1H726.7M730.4 236.1V241.6M727.7 238.9H733.2M736.5 240.7V246.2M733.7 243.5H739.2M742.2 244.8V250.3M739.4 247.6H744.9M749.0 246.5V252.0M746.2 249.3H751.7M755.0 250.4V255.9M752.3 253.2H757.8M758.9 256.6V262.1M756.1 259.3H761.6M762.4 261.4V266.9M759.7 264.2H765.2M768.9 265.8V271.3M766.2 268.5H771.7M775.1 270.1V275.6M772.3 272.9H777.8M781.4 274.5V280.0M778.7 277.3H784.2M787.8 278.7V284.2M785.0 281.4H790.5M793.7 282.0V287.5M790.9 284.8H796.4M798.5 286.6V292.1M795.8 289.3H801.3M803.5 289.4V294.9M800.8 292.1H806.3M810.8 290.3V295.8M808.0 293.0H813.5M816.5 292.4V297.9M813.7 295.1H819.2M822.3 294.4V299.9M819.5 297.2H825.0M828.7 295.1V300.6M825.9 297.8H831.4M834.9 295.7V301.2M832.2 298.5H837.7M840.0 299.8V305.3M837.3 302.5H842.8M845.5 301.4V306.9M842.7 304.1H848.2M851.5 301.4V306.9M848.7 304.1H854.2M856.7 304.0V309.5M853.9 306.7H859.4M861.1 308.4V313.9M858.3 311.1H863.8M867.2 309.6V315.1M864.5 312.4H870.0M873.3 309.6V315.1M870.5 312.4H876.0M880.4 312.4V317.9M877.7 315.2H883.2M887.2 315.0V320.5M884.4 317.7H889.9M893.0 317.4V322.9M890.2 320.1H895.7M898.8 320.3V325.8M896.0 323.0H901.5M905.3 321.7V327.2M902.5 324.5H908.0M911.5 324.3V329.8M908.8 327.0H914.3M917.6 325.2V330.7M914.9 327.9H920.4M924.3 328.6V334.1M921.6 331.3H927.1" stroke="#0f5fb0" stroke-width="2.2" fill="none"/>
<path d="M935.4 330.5V336.5M932.4 333.5H938.4M945.3 330.5V336.5M942.3 333.5H948.3M953.1 330.5V336.5M950.1 333.5H956.1M976.8 343.3V349.3M973.8 346.3H979.8M984.2 349.7V355.7M981.2 352.7H987.2M1013.2 370.8V376.8M1010.2 373.8H1016.2" stroke="#0f5fb0" stroke-width="2.3" fill="none"/>
<path d="M81.2 133.1V139.1M78.2 136.1H84.2M91.8 136.6V142.6M88.8 139.6H94.8M93.6 147.8V153.8M90.6 150.8H96.6M95.4 162.5V168.5M92.4 165.5H98.4M96.9 178.4V184.4M93.9 181.4H99.9M103.5 190.7V196.7M100.5 193.7H106.5M113.1 200.9V206.9M110.1 203.9H116.1M117.4 215.1V221.1M114.4 218.1H120.4M124.2 223.8V229.8M121.2 226.8H127.2M135.0 225.3V231.3M132.0 228.3H138.0M140.2 237.2V243.2M137.2 240.2H143.2M145.6 247.8V253.8M142.6 250.8H148.6M153.8 252.6V258.6M150.8 255.6H156.8M156.9 261.4V267.4M153.9 264.4H159.9M166.4 268.2V274.2M163.4 271.2H169.4M176.1 274.2V280.2M173.1 277.2H179.1M184.3 285.4V291.4M181.3 288.4H187.3M196.7 293.3V299.3M193.7 296.3H199.7M201.4 305.0V311.0M198.4 308.0H204.4M212.0 312.8V318.8M209.0 315.8H215.0M227.7 315.4V321.4M224.7 318.4H230.7M239.9 323.3V329.3M236.9 326.3H242.9M247.4 330.4V336.4M244.4 333.4H250.4M258.7 331.2V337.2M255.7 334.2H261.7M266.6 338.3V344.3M263.6 341.3H269.6M276.3 341.7V347.7M273.3 344.7H279.3M287.2 343.9V349.9M284.2 346.9H290.2M300.3 347.5V353.5M297.3 350.5H303.3M314.8 351.5V357.5M311.8 354.5H317.8M323.8 361.5V367.5M320.8 364.5H326.8M336.7 361.4V367.4M333.7 364.4H339.7" stroke="#a6a6a8" stroke-width="2.3" fill="none"/>
<path d="M619.4 131.5V137.5M616.4 134.5H622.4M628.1 137.1V143.1M625.1 140.1H631.1M632.5 149.9V155.9M629.5 152.9H635.5M633.6 165.4V171.4M630.6 168.4H636.6M634.8 180.0V186.0M631.8 183.0H637.8M640.8 192.9V198.9M637.8 195.9H643.8M650.8 200.9V206.9M647.8 203.9H653.8M654.1 211.4V217.4M651.1 214.4H657.1M657.0 225.8V231.8M654.0 228.8H660.0M665.7 233.0V239.0M662.7 236.0H668.7M675.4 241.2V247.2M672.4 244.2H678.4M682.8 255.0V261.0M679.8 258.0H685.8M690.6 263.9V269.9M687.6 266.9H693.6M697.6 273.2V279.2M694.6 276.2H700.6M711.7 279.8V285.8M708.7 282.8H714.7M719.4 291.9V297.9M716.4 294.9H722.4M727.8 298.5V304.5M724.8 301.5H730.8M735.6 305.7V311.7M732.6 308.7H738.6M740.6 315.2V321.2M737.6 318.2H743.6M755.0 318.2V324.2M752.0 321.2H758.0M769.7 319.8V325.8M766.7 322.8H772.7M776.2 328.0V334.0M773.2 331.0H779.2M787.9 334.2V340.2M784.9 337.2H790.9M801.6 338.7V344.7M798.6 341.7H804.6M813.0 343.7V349.7M810.0 346.7H816.0M824.1 348.2V354.2M821.1 351.2H827.1M836.7 352.2V358.2M833.7 355.2H839.7M847.3 353.9V359.9M844.3 356.9H850.3" stroke="#a6a6a8" stroke-width="2.3" fill="none"/>
<path d="M860.7 361.6V367.6M857.7 364.6H863.7M863.7 361.6V367.6M860.7 364.6H866.7M866.7 361.6V367.6M863.7 364.6H869.7M871.0 361.6V367.6M868.0 364.6H874.0" stroke="#a6a6a8" stroke-width="2.3" fill="none"/>
<path d="M352.0 374.1H368.3M371.0 374.1H385.1M390.6 374.1H404.4M409.8 374.1H423.7M429.0 374.1H443.0M447.7 374.1H461.0M365.6 371.1V377.1M458.6 371.1V377.1" stroke="#a6a6a8" stroke-width="2.3" fill="none"/>
<path d="M885.2 372.2H905.2M911.1 372.2H924.4M930.4 372.2H943.7M949.6 372.2H963.0M968.9 372.2H982.2M987.4 372.2H994.0M899.3 369.2V375.2M903.0 369.2V375.2M990.4 369.2V375.2" stroke="#a6a6a8" stroke-width="2.3" fill="none"/>
<text x="410.8" y="322.3" font-size="14" font-style="italic" fill="#2566b5" stroke="#2566b5" stroke-width="0.3" textLength="106.6" lengthAdjust="spacingAndGlyphs">T-DXd (n = 331)</text>
<text x="374.3" y="390" font-size="14" font-style="italic" fill="#b3b3b3" textLength="89" lengthAdjust="spacingAndGlyphs">TPC (n = 163)</text>
<text x="964" y="321.6" font-size="14" font-style="italic" fill="#2566b5" stroke="#2566b5" stroke-width="0.3" textLength="106" lengthAdjust="spacingAndGlyphs">T-DXd (n = 373)</text>
<text x="927.6" y="390.5" font-size="14" font-style="italic" fill="#b3b3b3" textLength="88.5" lengthAdjust="spacingAndGlyphs">TPC (n = 184)</text>
<text transform="translate(25 398.4) rotate(-90)" font-size="13" font-style="italic" font-weight="bold" fill="#222" stroke="#fff" stroke-width="0.25" textLength="279.5" lengthAdjust="spacingAndGlyphs">Progression-Free Survival Probability (%)</text>
<text transform="translate(564 399) rotate(-90)" font-size="13" font-style="italic" font-weight="bold" fill="#222" stroke="#fff" stroke-width="0.25" textLength="281" lengthAdjust="spacingAndGlyphs">Progression-Free Survival Probability (%)</text>
<text x="259.8" y="436.1" font-size="14.5" font-style="italic" font-weight="bold" fill="#111" stroke="#fff" stroke-width="0.35" textLength="49.4" lengthAdjust="spacingAndGlyphs">Months</text>
<text x="791" y="436.1" font-size="14.5" font-style="italic" font-weight="bold" fill="#111" stroke="#fff" stroke-width="0.35" textLength="49.4" lengthAdjust="spacingAndGlyphs">Months</text>
<text x="24" y="439.8" font-size="10" font-style="italic" font-weight="bold" fill="#333" stroke="#fff" stroke-width="0.25" textLength="49.5" lengthAdjust="spacingAndGlyphs">No. at Risk</text>
<text x="568" y="439.6" font-size="10" font-style="italic" font-weight="bold" fill="#333" stroke="#fff" stroke-width="0.25" textLength="49.3" lengthAdjust="spacingAndGlyphs">No. at Risk</text>
<text x="61.5" y="457" text-anchor="end" font-size="9" fill="#333">T-DXd (n=331):</text>
<text x="61.5" y="467.2" text-anchor="end" font-size="9" fill="#333">TPC (n=163):</text>
<g font-size="9.2" fill="#111"><text x="77.0" y="457.4" text-anchor="middle">331</text><text x="92.2" y="457.4" text-anchor="middle">324</text><text x="107.4" y="457.4" text-anchor="middle">290</text><text x="122.6" y="457.4" text-anchor="middle">265</text><text x="137.8" y="457.4" text-anchor="middle">262</text><text x="153.0" y="457.4" text-anchor="middle">248</text><text x="168.2" y="457.4" text-anchor="middle">218</text><text x="183.4" y="457.4" text-anchor="middle">198</text><text x="198.6" y="457.4" text-anchor="middle">182</text><text x="213.8" y="457.4" text-anchor="middle">165</text><text x="229.0" y="457.4" text-anchor="middle">142</text><text x="244.2" y="457.4" text-anchor="middle">128</text><text x="259.4" y="457.4" text-anchor="middle">107</text><text x="274.6" y="457.4" text-anchor="middle">89</text><text x="289.8" y="457.4" text-anchor="middle">78</text><text x="305.0" y="457.4" text-anchor="middle">73</text><text x="320.2" y="457.4" text-anchor="middle">64</text><text x="335.4" y="457.4" text-anchor="middle">48</text><text x="350.6" y="457.4" text-anchor="middle">37</text><text x="365.8" y="457.4" text-anchor="middle">31</text><text x="381.0" y="457.4" text-anchor="middle">28</text><text x="396.2" y="457.4" text-anchor="middle">17</text><text x="411.4" y="457.4" text-anchor="middle">14</text><text x="426.6" y="457.4" text-anchor="middle">12</text><text x="441.8" y="457.4" text-anchor="middle">7</text><text x="457.0" y="457.4" text-anchor="middle">4</text><text x="472.2" y="457.4" text-anchor="middle">4</text><text x="487.4" y="457.4" text-anchor="middle">1</text><text x="502.6" y="457.4" text-anchor="middle">1</text><text x="517.8" y="457.4" text-anchor="middle">0</text></g>
<g font-size="9.2" fill="#111"><text x="77.0" y="467.6" text-anchor="middle">163</text><text x="92.2" y="467.6" text-anchor="middle">146</text><text x="107.4" y="467.6" text-anchor="middle">105</text><text x="122.6" y="467.6" text-anchor="middle">85</text><text x="137.8" y="467.6" text-anchor="middle">84</text><text x="153.0" y="467.6" text-anchor="middle">69</text><text x="168.2" y="467.6" text-anchor="middle">57</text><text x="183.4" y="467.6" text-anchor="middle">48</text><text x="198.6" y="467.6" text-anchor="middle">43</text><text x="213.8" y="467.6" text-anchor="middle">32</text><text x="229.0" y="467.6" text-anchor="middle">30</text><text x="244.2" y="467.6" text-anchor="middle">27</text><text x="259.4" y="467.6" text-anchor="middle">24</text><text x="274.6" y="467.6" text-anchor="middle">20</text><text x="289.8" y="467.6" text-anchor="middle">14</text><text x="305.0" y="467.6" text-anchor="middle">12</text><text x="320.2" y="467.6" text-anchor="middle">8</text><text x="335.4" y="467.6" text-anchor="middle">4</text><text x="350.6" y="467.6" text-anchor="middle">3</text><text x="365.8" y="467.6" text-anchor="middle">2</text><text x="381.0" y="467.6" text-anchor="middle">1</text><text x="396.2" y="467.6" text-anchor="middle">1</text><text x="411.4" y="467.6" text-anchor="middle">1</text><text x="426.6" y="467.6" text-anchor="middle">1</text><text x="441.8" y="467.6" text-anchor="middle">1</text><text x="457.0" y="467.6" text-anchor="middle">1</text><text x="472.2" y="467.6" text-anchor="middle">0</text></g>
<text x="601" y="457" text-anchor="end" font-size="9" fill="#333">T-DXd (n=373):</text>
<text x="601" y="467.4" text-anchor="end" font-size="9" fill="#333">TPC (n=184):</text>
<g font-size="9.2" fill="#111"><text x="612.4" y="457.2" text-anchor="middle">373</text><text x="627.4" y="457.2" text-anchor="middle">365</text><text x="642.5" y="457.2" text-anchor="middle">325</text><text x="657.5" y="457.2" text-anchor="middle">295</text><text x="672.6" y="457.2" text-anchor="middle">290</text><text x="687.6" y="457.2" text-anchor="middle">272</text><text x="702.7" y="457.2" text-anchor="middle">238</text><text x="717.8" y="457.2" text-anchor="middle">217</text><text x="732.8" y="457.2" text-anchor="middle">201</text><text x="747.9" y="457.2" text-anchor="middle">183</text><text x="762.9" y="457.2" text-anchor="middle">156</text><text x="778.0" y="457.2" text-anchor="middle">142</text><text x="793.0" y="457.2" text-anchor="middle">118</text><text x="808.0" y="457.2" text-anchor="middle">100</text><text x="823.1" y="457.2" text-anchor="middle">88</text><text x="838.1" y="457.2" text-anchor="middle">81</text><text x="853.2" y="457.2" text-anchor="middle">71</text><text x="868.2" y="457.2" text-anchor="middle">53</text><text x="883.3" y="457.2" text-anchor="middle">42</text><text x="898.3" y="457.2" text-anchor="middle">35</text><text x="913.4" y="457.2" text-anchor="middle">32</text><text x="928.5" y="457.2" text-anchor="middle">21</text><text x="943.5" y="457.2" text-anchor="middle">18</text><text x="958.5" y="457.2" text-anchor="middle">15</text><text x="973.6" y="457.2" text-anchor="middle">8</text><text x="988.6" y="457.2" text-anchor="middle">4</text><text x="1003.7" y="457.2" text-anchor="middle">4</text><text x="1018.8" y="457.2" text-anchor="middle">1</text><text x="1033.8" y="457.2" text-anchor="middle">1</text><text x="1048.8" y="457.2" text-anchor="middle">0</text></g>
<g font-size="9.2" fill="#111"><text x="612.4" y="467.5" text-anchor="middle">184</text><text x="627.4" y="467.5" text-anchor="middle">166</text><text x="642.5" y="467.5" text-anchor="middle">119</text><text x="657.5" y="467.5" text-anchor="middle">93</text><text x="672.6" y="467.5" text-anchor="middle">90</text><text x="687.6" y="467.5" text-anchor="middle">73</text><text x="702.7" y="467.5" text-anchor="middle">60</text><text x="717.8" y="467.5" text-anchor="middle">51</text><text x="732.8" y="467.5" text-anchor="middle">45</text><text x="747.9" y="467.5" text-anchor="middle">34</text><text x="762.9" y="467.5" text-anchor="middle">32</text><text x="778.0" y="467.5" text-anchor="middle">29</text><text x="793.0" y="467.5" text-anchor="middle">26</text><text x="808.0" y="467.5" text-anchor="middle">22</text><text x="823.1" y="467.5" text-anchor="middle">15</text><text x="838.1" y="467.5" text-anchor="middle">13</text><text x="853.2" y="467.5" text-anchor="middle">9</text><text x="868.2" y="467.5" text-anchor="middle">5</text><text x="883.3" y="467.5" text-anchor="middle">4</text><text x="898.3" y="467.5" text-anchor="middle">3</text><text x="913.4" y="467.5" text-anchor="middle">1</text><text x="928.5" y="467.5" text-anchor="middle">1</text><text x="943.5" y="467.5" text-anchor="middle">1</text><text x="958.5" y="467.5" text-anchor="middle">1</text><text x="973.6" y="467.5" text-anchor="middle">1</text><text x="988.6" y="467.5" text-anchor="middle">1</text><text x="1003.7" y="467.5" text-anchor="middle">0</text></g>
<text x="38.4" y="490" font-size="11" fill="#222" textLength="204" lengthAdjust="spacingAndGlyphs">PFS by blinded independent central review.</text>
<text x="38.4" y="502.2" font-size="11" fill="#222" textLength="306.8" lengthAdjust="spacingAndGlyphs">Modi S et al. <tspan font-style="italic">N Engl J Med</tspan>. 2022. doi: 10.1056/NEJMoa2203690.</text>
</svg></body></html>
